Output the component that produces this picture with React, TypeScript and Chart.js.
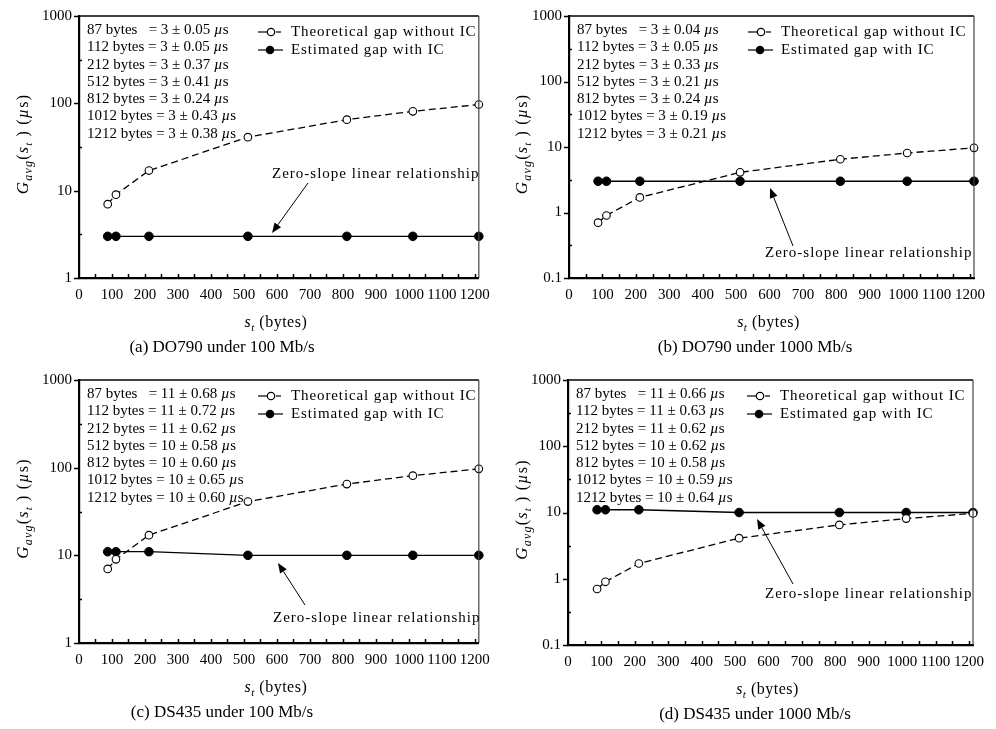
import React, { useEffect, useRef } from "react";
import { Chart, registerables } from "chart.js";

Chart.register(...registerables);

const FONT = '"Liberation Serif", "Times New Roman", serif';

// ---------------- data ----------------
const sizes = [87, 112, 212, 512, 812, 1012, 1212];
const theoretical100 = [7, 9, 17, 41, 65, 81, 97];
const theoretical1000 = [0.7, 0.9, 1.7, 4.1, 6.5, 8.1, 9.7];
const estimatedDO790_100 = [3, 3, 3, 3, 3, 3, 3];
const estimatedDO790_1000 = [3, 3, 3, 3, 3, 3, 3];
const estimatedDS435_100 = [11, 11, 11, 10, 10, 10, 10];
const estimatedDS435_1000 = [11, 11, 11, 10, 10, 10, 10];

const meanDO790_100 = [3, 3, 3, 3, 3, 3, 3];
const sdDO790_100 = ["0.05", "0.05", "0.37", "0.41", "0.24", "0.43", "0.38"];
const meanDO790_1000 = [3, 3, 3, 3, 3, 3, 3];
const sdDO790_1000 = ["0.04", "0.05", "0.33", "0.21", "0.24", "0.19", "0.21"];
const meanDS435_100 = [11, 11, 11, 10, 10, 10, 10];
const sdDS435_100 = ["0.68", "0.72", "0.62", "0.58", "0.60", "0.65", "0.60"];
const meanDS435_1000 = [11, 11, 11, 10, 10, 10, 10];
const sdDS435_1000 = ["0.66", "0.63", "0.62", "0.62", "0.58", "0.59", "0.64"];

const xTickValues = [0, 100, 200, 300, 400, 500, 600, 700, 800, 900, 1000, 1100, 1200];
const yTicks100 = [1, 10, 100, 1000];
const yTicks1000 = [0.1, 1, 10, 100, 1000];

const legendLabels = ["Theoretical gap without IC", "Estimated gap with IC"];
const annotationText = "Zero-slope linear relationship";
const captions = [
  "(a) DO790 under 100 Mb/s",
  "(b) DO790 under 1000 Mb/s",
  "(c) DS435 under 100 Mb/s",
  "(d) DS435 under 1000 Mb/s",
];

// ---------------- layout ----------------
type Panel = {
  left: number; top: number; w: number; h: number;
  area: { l: number; t: number; r: number; b: number };
  theo: number[]; est: number[]; mean: number[]; sd: string[];
  yTicks: number[]; caption: string; capX: number; titleX: number;
  anno: { tx: number; ty: number; x1: number; y1: number; x2: number; y2: number };
};

const panels: Panel[] = [
  {
    left: 0, top: 0, w: 498, h: 364,
    area: { l: 79, t: 15, r: 484, b: 278 },
    theo: theoretical100, est: estimatedDO790_100, mean: meanDO790_100, sd: sdDO790_100,
    yTicks: yTicks100, caption: captions[0], capX: 222, titleX: 22,
    anno: { tx: 193, ty: 158, x1: 229, y1: 167, x2: 193, y2: 217 },
  },
  {
    left: 498, top: 0, w: 498, h: 364,
    area: { l: 71, t: 15, r: 476, b: 278 },
    theo: theoretical1000, est: estimatedDO790_1000, mean: meanDO790_1000, sd: sdDO790_1000,
    yTicks: yTicks1000, caption: captions[1], capX: 257, titleX: 23,
    anno: { tx: 196, ty: 237, x1: 224, y1: 230, x2: 201, y2: 172 },
  },
  {
    left: 0, top: 364, w: 498, h: 365,
    area: { l: 79, t: 14, r: 483, b: 279 },
    theo: theoretical100, est: estimatedDS435_100, mean: meanDS435_100, sd: sdDS435_100,
    yTicks: yTicks100, caption: captions[2], capX: 222, titleX: 22,
    anno: { tx: 194, ty: 238, x1: 226, y1: 225, x2: 199, y2: 183 },
  },
  {
    left: 498, top: 364, w: 498, h: 365,
    area: { l: 70, t: 14, r: 475, b: 281 },
    theo: theoretical1000, est: estimatedDS435_1000, mean: meanDS435_1000, sd: sdDS435_1000,
    yTicks: yTicks1000, caption: captions[3], capX: 257, titleX: 23,
    anno: { tx: 197, ty: 214, x1: 225, y1: 204, x2: 189, y2: 139 },
  },
];

function setSpacing(ctx: any, v: string) {
  try { ctx.letterSpacing = v; } catch (e) { /* ignore */ }
}

function drawParts(ctx: CanvasRenderingContext2D, parts: { t: string; f: string; dy: number }[], x: number, y: number, align: "left" | "center") {
  let total = 0;
  for (const p of parts) { ctx.font = p.f; total += ctx.measureText(p.t).width; }
  let cx = align === "center" ? x - total / 2 : x;
  ctx.textAlign = "left";
  ctx.textBaseline = "alphabetic";
  for (const p of parts) {
    ctx.font = p.f;
    ctx.fillText(p.t, cx, y + p.dy);
    cx += ctx.measureText(p.t).width;
  }
}

function makeOverlay(p: Panel) {
  return {
    id: "overlay",
    afterDraw(chart: any) {
      const ctx: CanvasRenderingContext2D = chart.ctx;
      const { left, right, top, bottom } = chart.chartArea;
      const xs = chart.scales.x;
      const ys = chart.scales.y;
      ctx.save();
      ctx.fillStyle = "#000";
      ctx.strokeStyle = "#000";
      ctx.setLineDash([]);

      // frame
      ctx.lineWidth = 1.5;
      ctx.beginPath(); ctx.moveTo(left, top); ctx.lineTo(right, top); ctx.stroke();
      ctx.strokeStyle = "#444";
      ctx.lineWidth = 1.2;
      ctx.beginPath(); ctx.moveTo(right, top); ctx.lineTo(right, bottom); ctx.stroke();
      ctx.strokeStyle = "#000";

      // x tick marks (inside)
      ctx.lineWidth = 1.5;
      for (let v = 50; v <= 1200; v += 50) {
        const x = Math.round(xs.getPixelForValue(v)) + 0.5;
        ctx.beginPath(); ctx.moveTo(x, bottom); ctx.lineTo(x, bottom - 4); ctx.stroke();
      }
      // y tick marks: major outside, minor inside
      for (const v of p.yTicks) {
        const y = Math.round(ys.getPixelForValue(v)) + 0.5;
        ctx.beginPath(); ctx.moveTo(left - 5, y); ctx.lineTo(left, y); ctx.stroke();
        const m = v * Math.sqrt(10);
        if (m < ys.max) {
          const ym = Math.round(ys.getPixelForValue(m)) + 0.5;
          ctx.beginPath(); ctx.moveTo(left, ym); ctx.lineTo(left + 3, ym); ctx.stroke();
        }
      }

      // stats text
      ctx.textAlign = "left";
      ctx.textBaseline = "middle";
      for (let i = 0; i < sizes.length; i++) {
        const y = top + 14 + i * 17.3;
        const pre = `${sizes[i]} bytes${sizes[i] === 87 ? "   " : " "}= ${p.mean[i]} ± ${p.sd[i]} `;
        ctx.font = `15px ${FONT}`;
        ctx.fillText(pre, left + 8, y);
        let x = left + 8 + ctx.measureText(pre).width;
        ctx.font = `italic 15px ${FONT}`;
        ctx.fillText("µ", x, y);
        x += ctx.measureText("µ").width;
        ctx.font = `15px ${FONT}`;
        ctx.fillText("s", x, y);
      }

      // legend
      const ly1 = top + 16;
      const ly2 = top + 34;
      ctx.lineWidth = 1.2;
      ctx.beginPath(); ctx.moveTo(left + 179, ly1); ctx.lineTo(left + 188, ly1); ctx.stroke();
      ctx.beginPath(); ctx.moveTo(left + 197, ly1); ctx.lineTo(left + 202, ly1); ctx.stroke();
      ctx.beginPath(); ctx.arc(left + 192, ly1, 3.7, 0, Math.PI * 2);
      ctx.fillStyle = "#fff"; ctx.fill(); ctx.stroke();
      ctx.fillStyle = "#000";
      ctx.beginPath(); ctx.moveTo(left + 179, ly2); ctx.lineTo(left + 204, ly2); ctx.stroke();
      ctx.beginPath(); ctx.arc(left + 191, ly2, 4.3, 0, Math.PI * 2); ctx.fill();
      ctx.font = `15px ${FONT}`;
      setSpacing(ctx, "0.9px");
      ctx.fillText(legendLabels[0], left + 212, ly1);
      ctx.fillText(legendLabels[1], left + 212, ly2);

      // annotation
      setSpacing(ctx, "1px");
      ctx.fillText(annotationText, left + p.anno.tx, top + p.anno.ty);
      setSpacing(ctx, "0px");
      const ax1 = left + p.anno.x1, ay1 = top + p.anno.y1, ax2 = left + p.anno.x2, ay2 = top + p.anno.y2;
      const ang = Math.atan2(ay2 - ay1, ax2 - ax1);
      const hl = 10, hw = 4;
      const bx = ax2 - hl * Math.cos(ang), by = ay2 - hl * Math.sin(ang);
      ctx.lineWidth = 1;
      ctx.beginPath(); ctx.moveTo(ax1, ay1); ctx.lineTo(bx, by); ctx.stroke();
      ctx.beginPath();
      ctx.moveTo(ax2, ay2);
      ctx.lineTo(bx + hw * Math.sin(ang), by - hw * Math.cos(ang));
      ctx.lineTo(bx - hw * Math.sin(ang), by + hw * Math.cos(ang));
      ctx.closePath(); ctx.fill();

      // x title
      setSpacing(ctx, "0.5px");
      drawParts(ctx, [
        { t: "s", f: `italic 16px ${FONT}`, dy: 0 },
        { t: "t", f: `italic 11px ${FONT}`, dy: 4 },
        { t: " (bytes)", f: `16px ${FONT}`, dy: 0 },
      ], (left + right) / 2 - 3, bottom + 49, "center");
      setSpacing(ctx, "0px");

      // caption
      ctx.font = `17px ${FONT}`;
      ctx.textAlign = "center";
      ctx.textBaseline = "middle";
      ctx.fillText(p.caption, p.capX, bottom + 70);

      // y title (rotated)
      ctx.save();
      ctx.translate(p.titleX, (top + bottom) / 2 - 3);
      ctx.rotate(-Math.PI / 2);
      setSpacing(ctx, "1.2px");
      drawParts(ctx, [
        { t: "G", f: `italic 17px ${FONT}`, dy: 0 },
        { t: "avg", f: `italic 12px ${FONT}`, dy: 4 },
        { t: "(", f: `16px ${FONT}`, dy: 0 },
        { t: "s", f: `italic 16px ${FONT}`, dy: 0 },
        { t: "t", f: `italic 11px ${FONT}`, dy: 4 },
        { t: " ) (", f: `16px ${FONT}`, dy: 0 },
        { t: "µ", f: `italic 16px ${FONT}`, dy: 0 },
        { t: "s)", f: `16px ${FONT}`, dy: 0 },
      ], 0, 6, "center");
      setSpacing(ctx, "0px");
      ctx.restore();

      ctx.restore();
    },
  };
}

function PanelChart({ p }: { p: Panel }) {
  const ref = useRef<HTMLCanvasElement | null>(null);
  useEffect(() => {
    if (!ref.current) return;
    const chart = new Chart(ref.current, {
      type: "line",
      data: {
        datasets: [
          {
            label: legendLabels[0],
            data: sizes.map((x, i) => ({ x, y: p.theo[i] })),
            borderColor: "#000",
            borderWidth: 1.3,
            borderDash: [7, 4],
            pointRadius: 3.8,
            pointBackgroundColor: "#fff",
            pointBorderColor: "#000",
            pointBorderWidth: 1.1,
            tension: 0,
            clip: false as any,
          },
          {
            label: legendLabels[1],
            data: sizes.map((x, i) => ({ x, y: p.est[i] })),
            borderColor: "#000",
            borderWidth: 1.3,
            pointRadius: 4.3,
            pointBackgroundColor: "#000",
            pointBorderColor: "#000",
            pointBorderWidth: 1,
            tension: 0,
            clip: false as any,
          },
        ],
      },
      options: {
        animation: false,
        responsive: false,
        events: [],
        layout: { padding: { top: p.area.t, right: p.w - p.area.r, left: 0, bottom: 0 } },
        plugins: { legend: { display: false }, tooltip: { enabled: false }, title: { display: false } },
        scales: {
          x: {
            type: "linear",
            min: 0,
            max: 1212,
            afterBuildTicks: (s: any) => { s.ticks = xTickValues.map((v) => ({ value: v })); },
            afterFit: (s: any) => { s.height = p.h - p.area.b; },
            ticks: {
              autoSkip: false, maxRotation: 0, color: "#000", padding: 8,
              font: { family: FONT, size: 15 },
              callback: (v: any) => String(v),
            },
            grid: { display: false, drawTicks: false },
            border: { display: true, color: "#000", width: 2.2 },
          },
          y: {
            type: "logarithmic",
            min: p.yTicks[0],
            max: 1000,
            afterBuildTicks: (s: any) => { s.ticks = p.yTicks.map((v) => ({ value: v })); },
            afterFit: (s: any) => { s.width = p.area.l; },
            ticks: {
              autoSkip: false, color: "#000", padding: 7,
              font: { family: FONT, size: 15 },
              callback: (v: any) => String(v),
            },
            grid: { display: false, drawTicks: false },
            border: { display: true, color: "#000", width: 2.2 },
          },
        },
      },
      plugins: [makeOverlay(p)],
    } as any);
    return () => chart.destroy();
  }, [p]);
  return (
    <canvas
      ref={ref}
      width={p.w}
      height={p.h}
      style={{ position: "absolute", left: p.left, top: p.top, width: p.w, height: p.h }}
    />
  );
}

export default function App() {
  return (
    <div style={{ position: "fixed", left: 0, top: 0, width: 996, height: 729, background: "#fff", overflow: "hidden" }}>
      {panels.map((p, i) => (
        <PanelChart key={i} p={p} />
      ))}
    </div>
  );
}
